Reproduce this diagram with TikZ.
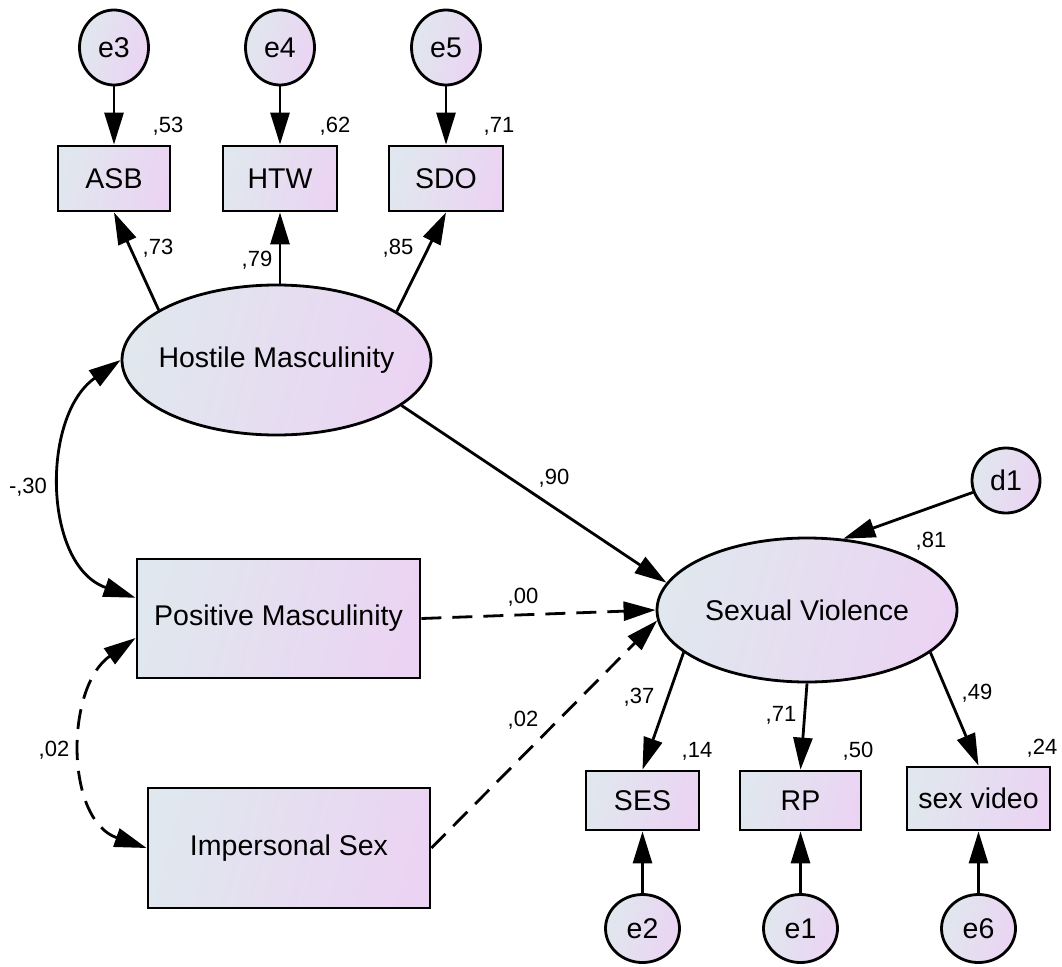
\documentclass[tikz,border=0pt]{standalone}
\usepackage{fontspec}
\setmainfont{Liberation Sans}
\usetikzlibrary{arrows.meta,shapes.geometric,calc}
\definecolor{fillL}{RGB}{224,231,238}
\definecolor{fillR}{RGB}{235,212,243}
\begin{document}
\begin{tikzpicture}[x=1pt,y=1pt,
  base/.style={draw=black,line width=2.8pt,left color=fillL,right color=fillR,
    shading angle=75,inner sep=0pt,font=\fontsize{28.5}{31}\selectfont},
  obs/.style={base,rectangle},
  lat/.style={base,ellipse},
  err/.style={base,ellipse},
  every label/.style={font=\fontsize{28.5}{31}\selectfont,inner sep=0pt},
  coef/.style={font=\fontsize{22}{25}\selectfont,inner sep=0pt},
  tip/.style={-{Triangle[length=32pt,width=19pt]}},
  path/.style={line width=2.8pt,tip},
  cov/.style={line width=2.8pt,{Triangle[length=32pt,width=19pt]}-{Triangle[length=32pt,width=19pt]}},
  dsh/.style={dash pattern=on 20pt off 11pt}
]
\useasboundingbox (0,0) rectangle (1062,-966);

% latent variables
\node[lat,minimum width=309pt,minimum height=150pt,label=center:{Hostile Masculinity}] (hm) at (276.5,-360) {};
\node[lat,minimum width=300pt,minimum height=144pt,label=center:{Sexual Violence}] (sv) at (807,-610) {};

% observed variables
\node[obs,minimum width=112pt,minimum height=65pt] (asb) at (114,-178.5) {ASB};
\node[obs,minimum width=114pt,minimum height=65pt] (htw) at (280,-178.5) {HTW};
\node[obs,minimum width=114pt,minimum height=65pt] (sdo) at (446,-178.5) {SDO};
\node[obs,minimum width=283pt,minimum height=119pt] (pm) at (278.5,-618.5) {Positive Masculinity};
\node[obs,minimum width=282pt,minimum height=120pt] (is) at (289,-848) {Impersonal Sex};
\node[obs,minimum width=113pt,minimum height=59pt] (ses) at (642.5,-800.5) {SES};
\node[obs,minimum width=121pt,minimum height=59pt] (rp) at (800.5,-800.5) {RP};
\node[obs,minimum width=143pt,minimum height=63pt] (sexv) at (978.5,-798.5) {sex video};

% error terms
\node[err,minimum width=69pt,minimum height=75pt] (e3) at (114,-47.5) {e3};
\node[err,minimum width=69pt,minimum height=75pt] (e4) at (280,-47.5) {e4};
\node[err,minimum width=69pt,minimum height=75pt] (e5) at (446,-47.5) {e5};
\node[err,minimum width=68pt,minimum height=65pt] (d1) at (1006,-480.5) {d1};
\node[err,minimum width=74pt,minimum height=68pt] (e2) at (642.5,-928.5) {e2};
\node[err,minimum width=74pt,minimum height=68pt] (e1) at (800.5,-928.5) {e1};
\node[err,minimum width=74pt,minimum height=68pt] (e6) at (978.5,-928.5) {e6};

% measurement paths
\draw[path] (e3) -- (asb);
\draw[path] (e4) -- (htw);
\draw[path] (e5) -- (sdo);
\draw[path] (hm.157.5) -- (asb.south);
\draw[path] (hm.north -| htw) -- (htw.south);
\draw[path] (hm.22.5) -- (sdo.south);
\draw[path] (sv.199) -- (ses.north);
\draw[path] (sv.south) -- (rp.north);
\draw[path] (sv.-19) -- (sexv.north);
\draw[path] (e2) -- (ses);
\draw[path] (e1) -- (rp);
\draw[path] (e6) -- (sexv);

% structural paths
\draw[path] (hm.-20) -- (sv.169);
\draw[path,dsh] (pm.east) -- (sv.west);
\draw[path,dsh] (is.east) -- (sv.184);
\draw[path] (d1) -- (sv.63);

% covariances
\draw[cov] (hm.west) to[out=215,in=161,looseness=1.05] ($(pm.north west)!0.33!(pm.south west)$);
\draw[cov,dsh] ($(pm.north west)!0.66!(pm.south west)$) to[out=215,in=161,looseness=1.05] (is.west);

% estimates
\node[coef] (r53) at (168,-126) {,53};
\node[coef] (r62) at (335,-126) {,62};
\node[coef] (r71a) at (499,-126) {,71};
\node[coef] (l73) at (158,-248) {,73};
\node[coef] (l79) at (257,-260) {,79};
\node[coef] (l85) at (398,-248) {,85};
\node[coef] (c30) at (28,-487) {-,30};
\node[coef] (p90) at (554,-478) {,90};
\node[coef] (p00) at (523,-597) {,00};
\node[coef] (p02) at (523,-720) {,02};
\node[coef] (c02) at (54,-750) {,02};
\node[coef] (r81) at (931,-541) {,81};
\node[coef] (l37) at (639,-697) {,37};
\node[coef] (l71) at (781,-715) {,71};
\node[coef] (l49) at (977,-693) {,49};
\node[coef] (r14) at (697,-751) {,14};
\node[coef] (r50) at (858,-751) {,50};
\node[coef] (r24) at (1042,-748) {,24};
\end{tikzpicture}
\end{document}
